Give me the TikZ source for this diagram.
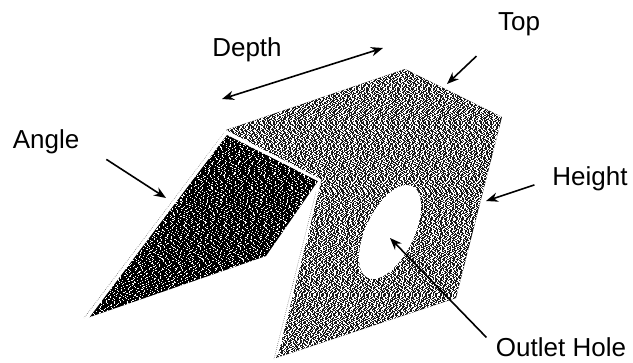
\documentclass[tikz,border=0pt]{standalone}
\usepackage{fontspec}
\setmainfont{Liberation Sans}
\usetikzlibrary{arrows.meta}
\newlength{\SketchUnit}
\setlength{\SketchUnit}{0.75pt}
\newcommand{\SketchLabelFont}{\fontsize{19.5pt}{22pt}\selectfont}
\tikzset{
    plategrain/.style={draw=white, line width=0.75pt,
        dash pattern=on 0.75pt off 0.75pt on 1.5pt off 1.5pt on 0.75pt off 2.25pt on 1.5pt off 0.75pt on 0.75pt off 1.5pt on 2.25pt off 1.5pt on 0.75pt off 0.75pt on 0.75pt off 2.25pt on 1.5pt off 1.5pt},
    flapgrain/.style={draw=white, line width=0.75pt,
        dash pattern=on 0.75pt off 4.5pt on 0.75pt off 2.25pt on 0.75pt off 6pt on 1.5pt off 3pt on 0.75pt off 5.25pt on 0.75pt off 3.75pt},
    whiteedge/.style={draw=white, line width=2.2pt},
    grainedge/.style={draw=black!55, line width=0.5pt, densely dotted},
    callout arrow/.style={-{Stealth[length=9pt,width=7pt]}, line width=1.2pt, draw=black},
    depth arrow/.style={{Stealth[length=9pt,width=7pt]}-{Stealth[length=9pt,width=7pt]}, line width=1.2pt, draw=black},
    sketch label/.style={inner sep=0pt, font=\SketchLabelFont}
}
\begin{document}
\begin{tikzpicture}[x=\SketchUnit,y=-\SketchUnit]
    \useasboundingbox (0,0) rectangle (633,362);
    \pgfmathsetseed{11}
    % main sheet, rows of broken white lines make the grain
    \begin{scope}
        \clip (226,130) -- (405,69) -- (502,117) -- (456,298)
            -- (276,358) -- (321,181) -- cycle;
        \fill[black!90] (220,60) rectangle (510,362);
        \foreach \row in {60,...,360} {
            \pgfmathsetmacro{\rowphase}{rnd*21}
            \draw[plategrain, dash phase=\rowphase pt] (220,\row+0.5) -- (510,\row+0.5);
        }
    \end{scope}
    \fill[white] (390,232) ellipse [x radius=51, y radius=24, rotate=64];
    % angled flap underneath
    \begin{scope}
        \clip (227,135) -- (318,181) -- (266,256) -- (87,318) -- cycle;
        \fill[black] (80,130) rectangle (325,320);
        \foreach \row in {130,...,320} {
            \pgfmathsetmacro{\rowphase}{rnd*30}
            \draw[flapgrain, dash phase=\rowphase pt] (80,\row+0.5) -- (325,\row+0.5);
        }
    \end{scope}
    \draw[grainedge] (224,133) -- (84,318);
    \draw[whiteedge] (226,133) -- (87,318);
    \draw[whiteedge] (226,132) -- (321,181);
    \draw[grainedge] (316,192) -- (274,359);
    \draw[whiteedge, line width=1.4pt] (319,186) -- (277,355);

    \node[sketch label] (label-depth) at (247,50) {Depth};
    \node[sketch label] (label-top) at (519,24) {Top};
    \node[sketch label] (label-angle) at (46,142) {Angle};
    \node[sketch label] (label-height) at (590,179) {Height};
    \node[sketch label] (label-outlet) at (561,347) {Outlet Hole};

    \coordinate (depth-front) at (222,99);
    \coordinate (depth-back) at (383,48);
    \coordinate (top-edge) at (447,84);
    \coordinate (flap-edge) at (166,198);
    \coordinate (side-edge) at (486,201);
    \coordinate (hole-centre) at (390,238);

    \draw[depth arrow] (depth-front) -- (depth-back);
    \draw[callout arrow, shorten <=22pt] (label-top.south west) -- (top-edge);
    \draw[callout arrow, shorten <=24pt] (label-angle.east) -- (flap-edge);
    \draw[callout arrow, shorten <=14pt] (label-height.west) -- (side-edge);
    \draw[callout arrow, shorten <=10pt] (label-outlet.west) -- (hole-centre);
\end{tikzpicture}
\end{document}
